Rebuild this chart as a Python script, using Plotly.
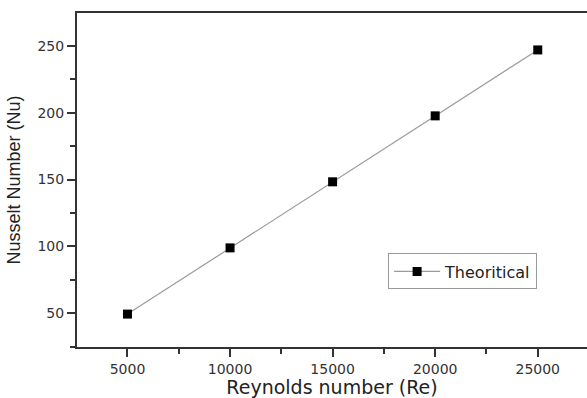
import plotly.graph_objects as go

reynolds = [5000, 10000, 15000, 20000, 25000]
nusselt = [49.4, 98.9, 148.3, 197.6, 246.9]
series_name = "Theoritical"
x_ticks = [5000, 10000, 15000, 20000, 25000]
x_tick_labels = ["5000", "10000", "15000", "20000", "25000"]
y_ticks = [50, 100, 150, 200, 250]
y_tick_labels = ["50", "100", "150", "200", "250"]

fig = go.Figure()
fig.add_trace(go.Scatter(
    x=reynolds, y=nusselt, mode="lines+markers", name=series_name,
    line=dict(color="#9a9a9a", width=1.2),
    marker=dict(symbol="square", size=9, color="black"),
))

axis_common = dict(
    showline=True, linecolor="#333333", linewidth=2,
    ticks="outside", ticklen=8, tickwidth=2, tickcolor="#333333",
    showgrid=False, zeroline=False, automargin=False,
    tickfont=dict(family="DejaVu Sans", size=14, color="#333333"),
)

fig.update_layout(
    width=587, height=398,
    margin=dict(l=77, r=0, t=13, b=51),
    paper_bgcolor="white", plot_bgcolor="white",
    font=dict(family="DejaVu Sans", color="#222222"),
    xaxis=dict(
        range=[2540, 27400], tickvals=x_ticks, ticktext=x_tick_labels, mirror=True,
        minor=dict(ticks="outside", dtick=2500, tick0=0, ticklen=5, tickwidth=2, tickcolor="#333333"),
        title=dict(text="Reynolds number (Re)", font=dict(family="DejaVu Sans", size=19, color="#222222"), standoff=14),
        **axis_common,
    ),
    yaxis=dict(
        range=[24.8, 274.5], tickvals=y_ticks, ticktext=y_tick_labels,
        minor=dict(ticks="outside", dtick=25, tick0=0, ticklen=5, tickwidth=2, tickcolor="#333333"),
        title=dict(text="Nusselt Number (Nu)", font=dict(family="Liberation Sans", size=18, color="#222222"), standoff=12),
        **axis_common,
    ),
    showlegend=True,
    legend=dict(
        x=0.61, y=0.28, xanchor="left", yanchor="top",
        bordercolor="#999999", borderwidth=1, bgcolor="white",
        font=dict(family="DejaVu Sans", size=16, color="#222222"),
        tracegroupgap=0, itemwidth=46,
    ),
)

fig.write_html("out.html")
